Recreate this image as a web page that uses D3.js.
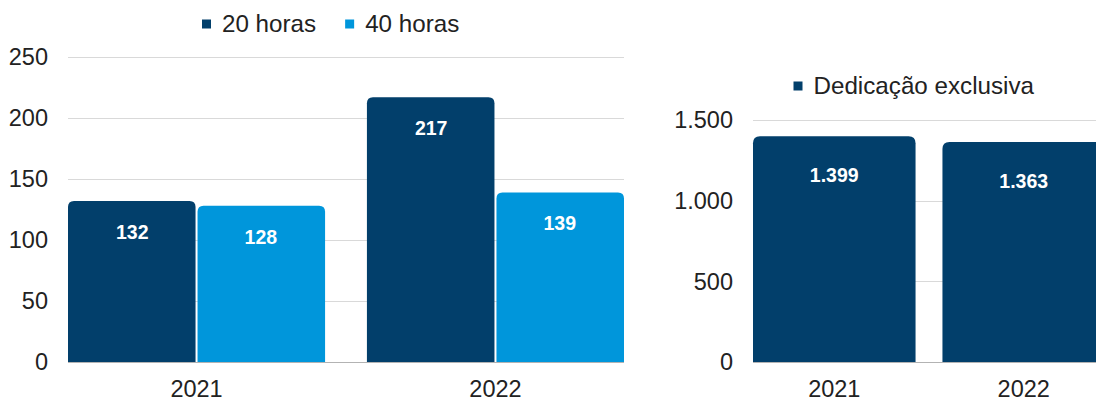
<!DOCTYPE html>
<html>
<head>
<meta charset="utf-8">
<script src="https://cdn.jsdelivr.net/npm/d3@7"></script>
<style>
  html, body { margin: 0; padding: 0; background: #ffffff; }
  svg { display: block; font-family: "Liberation Sans", Arial, sans-serif; }
</style>
</head>
<body>
<svg id="chart" width="1096" height="401"></svg>
<script>
// ---- data ----
const categories = ["2021", "2022"];
const seriesNames = ["20 horas", "40 horas"];
const horas20 = [132, 217];
const horas40 = [128, 139];
const dedicacaoName = "Dedicação exclusiva";
const dedicacao = [1399, 1363];
const leftTicks = [0, 50, 100, 150, 200, 250];
const rightTicks = [0, 500, 1000, 1500];

// ---- styles ----
const colorDark = "#023f6b";
const colorLight = "#0096db";
const textColor = "#222222";
const gridColor = "#d9d9d9";
const baseColor = "#b3b3b3";
const fontSize = 23.5;
const legendSize = 24.2;
const labelSize = 19.5;

const fmt = d3.formatLocale({ decimal: ",", thousands: ".", grouping: [3], currency: ["R$", ""] }).format(",d");

const svg = d3.select("#chart");

function topRoundedRect(x, y, w, h, r) {
  r = Math.min(r, w / 2, h);
  return `M${x},${y + h}V${y + r}Q${x},${y} ${x + r},${y}H${x + w - r}Q${x + w},${y} ${x + w},${y + r}V${y + h}Z`;
}

function measure(text, size, weight) {
  const t = svg.append("text").attr("font-size", size).attr("font-weight", weight || "normal").text(text);
  const w = t.node().getComputedTextLength();
  t.remove();
  return w;
}

function drawAxes(g, x0, y, ticks, xStart, xEnd) {
  g.selectAll(".grid").data(ticks.filter(t => t !== 0)).join("line")
    .attr("x1", xStart).attr("x2", xEnd)
    .attr("y1", d => Math.round(y(d)) + 0.5).attr("y2", d => Math.round(y(d)) + 0.5)
    .attr("stroke", gridColor).attr("stroke-width", 1);
  g.append("line")
    .attr("x1", xStart).attr("x2", xEnd)
    .attr("y1", Math.round(y(0)) + 0.5).attr("y2", Math.round(y(0)) + 0.5)
    .attr("stroke", baseColor).attr("stroke-width", 1.2);
  g.selectAll(".ytick").data(ticks).join("text")
    .attr("x", xStart - 20).attr("y", d => y(d))
    .attr("dy", "0.35em").attr("text-anchor", "end")
    .attr("font-size", fontSize).attr("fill", textColor)
    .text(d => fmt(d));
  g.selectAll(".xtick").data(categories).join("text")
    .attr("x", d => x0(d) + x0.bandwidth() / 2).attr("y", y(0) + 34.5)
    .attr("text-anchor", "middle")
    .attr("font-size", fontSize).attr("fill", textColor)
    .text(d => d);
}

function drawLegend(g, items, startX, baselineY) {
  let x = startX;
  items.forEach(it => {
    g.append("rect").attr("x", x).attr("y", baselineY - 12).attr("width", 9).attr("height", 9).attr("fill", it.color);
    g.append("text").attr("x", x + 20).attr("y", baselineY)
      .attr("font-size", legendSize).attr("fill", textColor).text(it.name);
    x += 20 + measure(it.name, legendSize) + 29;
  });
}

// ---- left chart ----
{
  const g = svg.append("g");
  const xStart = 68, xEnd = 624;
  const y = d3.scaleLinear().domain([0, 250]).range([362, 57]);
  const x0 = d3.scaleBand().domain(categories).range([xStart, xEnd]).paddingInner(0.14).paddingOuter(0);
  const x1 = d3.scaleBand().domain(seriesNames).range([0, x0.bandwidth()]).padding(0);
  drawAxes(g, x0, y, leftTicks, xStart, xEnd);

  const seriesVals = [horas20, horas40];
  const colors = [colorDark, colorLight];
  const rows = [];
  categories.forEach((c, i) => seriesNames.forEach((s, j) => rows.push({ c, s, v: seriesVals[j][i], color: colors[j] })));

  g.selectAll(".bar").data(rows).join("path")
    .attr("d", d => {
      const bx = x0(d.c) + x1(d.s) + (d.s === seriesNames[1] ? 1 : 0);
      const bw = x1.bandwidth() - 1;
      return topRoundedRect(bx, y(d.v), bw, y(0) - y(d.v), 6);
    })
    .attr("fill", d => d.color);

  g.selectAll(".lbl").data(rows).join("text")
    .attr("x", d => x0(d.c) + x1(d.s) + x1.bandwidth() / 2)
    .attr("y", d => y(d.v) + 31)
    .attr("dy", "0.35em").attr("text-anchor", "middle")
    .attr("font-size", labelSize).attr("font-weight", "bold").attr("fill", "#ffffff")
    .text(d => fmt(d.v));

  drawLegend(g, [{ name: seriesNames[0], color: colorDark }, { name: seriesNames[1], color: colorLight }], 202, 31.5);
}

// ---- right chart ----
{
  const g = svg.append("g");
  const xStart = 753, xEnd = 1105;
  const y = d3.scaleLinear().domain([0, 1500]).range([362, 120]);
  const x0 = d3.scaleBand().domain(categories).range([xStart, xEnd]).paddingInner(0.142).paddingOuter(0);
  drawAxes(g, x0, y, rightTicks, xStart, xEnd);

  const rows = categories.map((c, i) => ({ c, v: dedicacao[i] }));
  g.selectAll(".bar").data(rows).join("path")
    .attr("d", d => topRoundedRect(x0(d.c), y(d.v), x0.bandwidth(), y(0) - y(d.v), 7))
    .attr("fill", colorDark);

  g.selectAll(".lbl").data(rows).join("text")
    .attr("x", d => x0(d.c) + x0.bandwidth() / 2)
    .attr("y", d => y(d.v) + 39)
    .attr("dy", "0.35em").attr("text-anchor", "middle")
    .attr("font-size", labelSize).attr("font-weight", "bold").attr("fill", "#ffffff")
    .text(d => fmt(d.v));

  drawLegend(g, [{ name: dedicacaoName, color: colorDark }], 793.5, 93.5);
}
</script>
</body>
</html>
